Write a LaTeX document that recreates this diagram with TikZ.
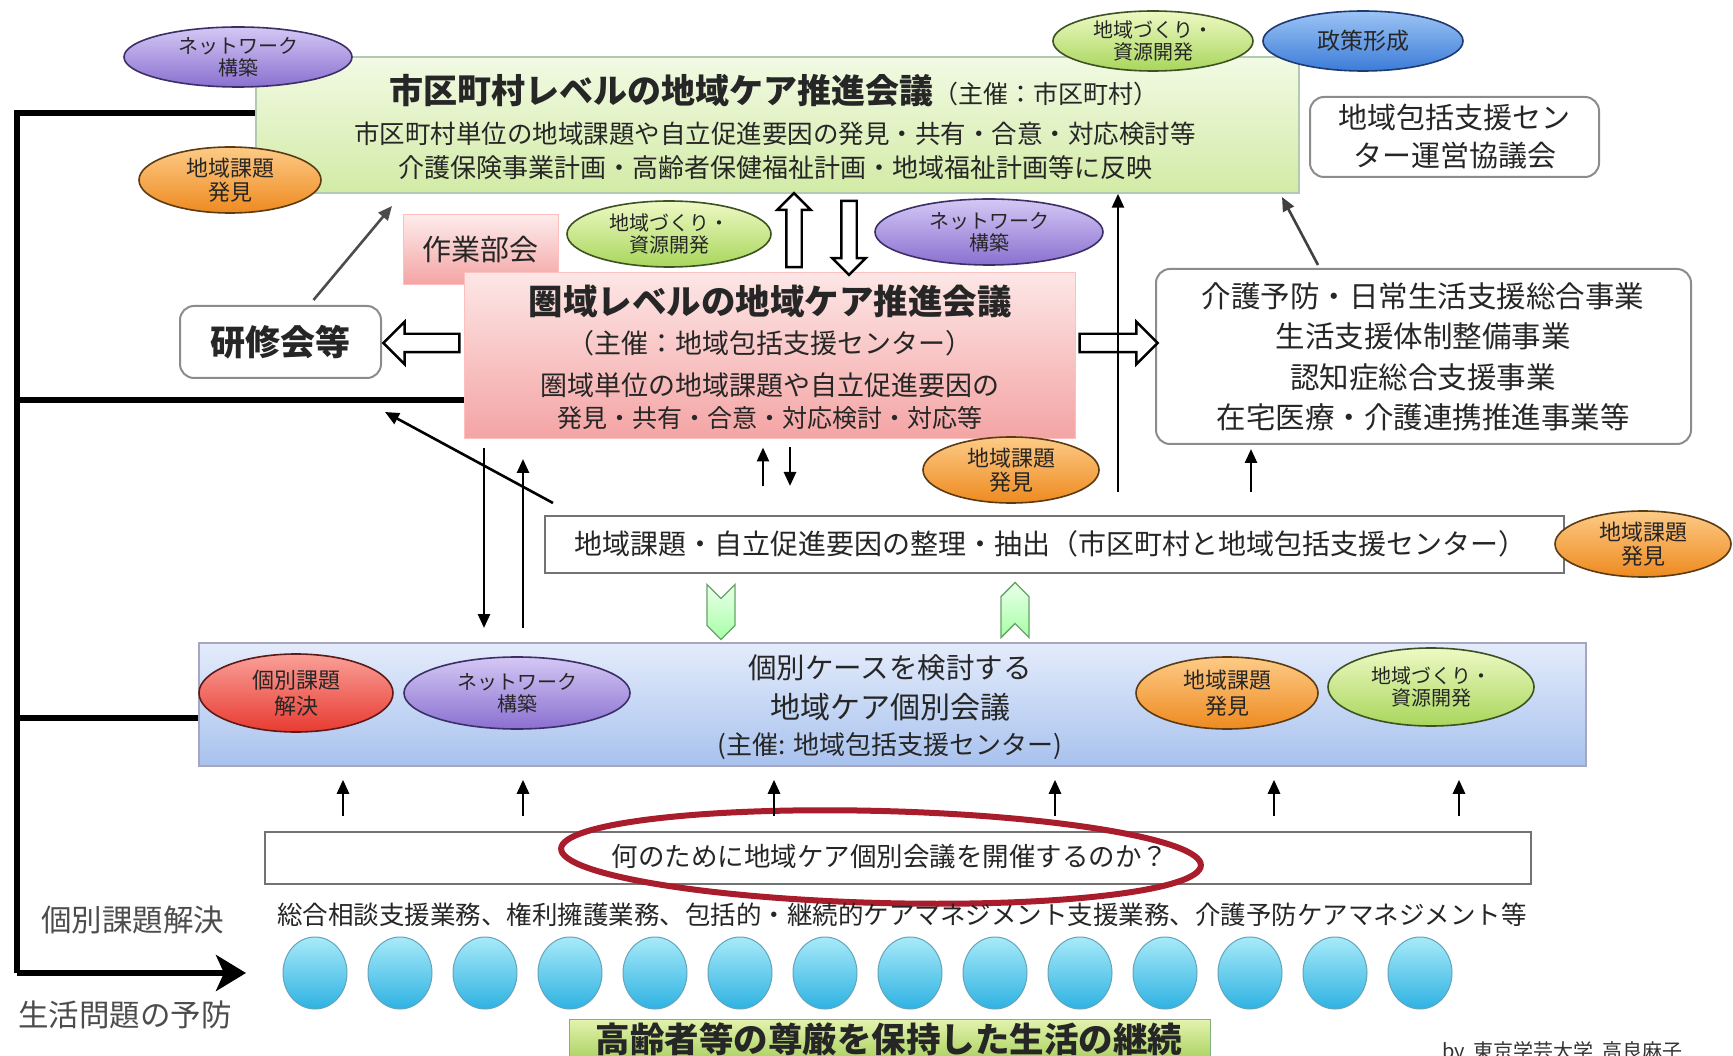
\documentclass[tikz,border=0pt]{standalone}
\usepackage{fontspec}
\setmainfont{Noto Sans CJK JP}
\usetikzlibrary{shapes.geometric,shapes.arrows,shapes.symbols,arrows.meta,shadows}
\newcommand\myfs[2]{\fontsize{#1}{#2}\selectfont}
\definecolor{txt}{HTML}{262626}
\definecolor{purT}{HTML}{D4C8F5}
\definecolor{purB}{HTML}{8A70D0}
\definecolor{purD}{HTML}{3C2F66}
\definecolor{oraT}{HTML}{FDCB86}
\definecolor{oraB}{HTML}{EE8A20}
\definecolor{oraD}{HTML}{5C3A12}
\definecolor{grnT}{HTML}{EEF9C4}
\definecolor{grnB}{HTML}{A8D65C}
\definecolor{grnD}{HTML}{3D5222}
\definecolor{bluT}{HTML}{9CC4F6}
\definecolor{bluB}{HTML}{3C7CD8}
\definecolor{bluD}{HTML}{1F3A72}
\definecolor{redT}{HTML}{F9A098}
\definecolor{redB}{HTML}{E83A30}
\definecolor{redD}{HTML}{5E1A18}
\definecolor{boxgT}{HTML}{F2FAE4}
\definecolor{boxgB}{HTML}{D2EBA6}
\definecolor{pinkT}{HTML}{FDE6E6}
\definecolor{pinkB}{HTML}{F4A4A4}
\definecolor{blbT}{HTML}{E4ECFB}
\definecolor{blbB}{HTML}{A8C2EE}
\definecolor{ballT}{HTML}{A8EAF9}
\definecolor{ballB}{HTML}{2EB2E2}
\definecolor{ringred}{HTML}{A81C2C}
\definecolor{botT}{HTML}{E4F3AE}
\definecolor{botB}{HTML}{98C648}
\tikzset{
  lbl/.style={ellipse, inner sep=0pt, align=center, text=black!85, line width=1.6pt, font=\myfs{20}{22}},
  pur/.style={lbl, top color=purT, bottom color=purB, draw=purD},
  ora/.style={lbl, top color=oraT, bottom color=oraB, draw=oraD},
  grn/.style={lbl, top color=grnT, bottom color=grnB, draw=grnD},
  blu/.style={lbl, top color=bluT, bottom color=bluB, draw=bluD},
  rd/.style={lbl, top color=redT, bottom color=redB, draw=redD},
  txtn/.style={inner sep=0pt, text=txt, align=center},
  rbox/.style={rounded corners=14pt, draw=black!45, fill=white, line width=2pt, inner sep=0pt},
  sbox/.style={draw=black!55, fill=white, line width=2.2pt, inner sep=0pt},
  arr/.style={-{Triangle[length=14pt,width=12pt]}, line width=2.6pt},
  thickln/.style={line width=6pt},
  hollow/.style={single arrow, draw=black, fill=white, line width=2.4pt, inner xsep=0pt, single arrow head indent=0pt, minimum width=1pt},
  chev/.style={signal, draw=green!40!black!60, top color=green!8, bottom color=green!35!white, line width=1.4pt, inner sep=0pt},
  ball/.style={ellipse, minimum width=64pt, minimum height=72pt, inner sep=0pt, top color=ballT, bottom color=ballB, draw=ballB!70!black!70, line width=1pt},
}
\begin{document}
\begin{tikzpicture}[x=1pt,y=-1pt]
\useasboundingbox (0,0) rectangle (1733,1056);
\fill[white] (0,0) rectangle (1733,1056);

% ---- boxes ----
\node[draw=green!30!black!30, line width=1.5pt, top color=boxgT, bottom color=boxgB, minimum width=1043pt, minimum height=136pt, inner sep=0pt] (topbox) at (777.5,125) {};
\node[txtn] (t1) at (774,91) {\myfs{34}{40}\bfseries 市区町村レベルの地域ケア推進会議\myfs{25}{30}\mdseries （主催：市区町村）};
\node[txtn] (t2) at (775,134) {\myfs{25.5}{30}市区町村単位の地域課題や自立促進要因の発見・共有・合意・対応検討等};
\node[txtn] (t3) at (775,168) {\myfs{26}{30}介護保険事業計画・高齢者保健福祉計画・地域福祉計画等に反映};

\node[rbox, minimum width=289pt, minimum height=80pt] (unei) at (1454.5,137) {};
\node[txtn, font=\myfs{29}{38}] (unei t) at (unei) {地域包括支援セン\\ター運営協議会};

\node[draw=red!25, line width=1pt, top color=pinkT!80, bottom color=pinkB, minimum width=155pt, minimum height=70pt, inner sep=0pt] (sagyo) at (480.5,250) {};
\node[txtn] (sagyo t) at (sagyo) {\myfs{29}{34}作業部会};

\node[draw=red!25, line width=1pt, top color=pinkT, bottom color=pinkB, minimum width=611pt, minimum height=166pt, inner sep=0pt] (pink) at (769.5,356) {};
\node[txtn] (p1) at (770,301) {\myfs{34.5}{40}\bfseries 圏域レベルの地域ケア推進会議};
\node[txtn] (p2) at (770,343) {\myfs{27}{32}（主催：地域包括支援センター）};
\node[txtn] (p3) at (770,385) {\myfs{27}{32}圏域単位の地域課題や自立促進要因の};
\node[txtn] (p4) at (770,418) {\myfs{25}{30}発見・共有・合意・対応検討・対応等};

\node[rbox, minimum width=201pt, minimum height=72pt] (kenshu) at (280.5,342) {};
\node[txtn] (kenshu t) at (kenshu) {\myfs{35}{40}\bfseries 研修会等};

\node[rbox, minimum width=535pt, minimum height=175pt] (jigyo) at (1423.5,356.5) {};
\node[txtn, font=\myfs{29.5}{40.5}] (jigyo t) at (1423,357) {介護予防・日常生活支援総合事業\\生活支援体制整備事業\\認知症総合支援事業\\在宅医療・介護連携推進事業等};

\node[sbox, minimum width=1019pt, minimum height=57pt] (seiri) at (1054.5,544.5) {};
\node[txtn] (seiri t) at (1050,544) {\myfs{28}{32}地域課題・自立促進要因の整理・抽出（市区町村と地域包括支援センター）};

\node[draw=blue!30!black!35, line width=1.5pt, top color=blbT, bottom color=blbB, minimum width=1387pt, minimum height=123pt, inner sep=0pt] (kobox) at (892.5,704.5) {};
\node[txtn] (k1) at (890,668) {\myfs{28.5}{32}個別ケースを検討する};
\node[txtn] (k2) at (890,707) {\myfs{30}{34}地域ケア個別会議};
\node[txtn] (k3) at (890,746) {\myfs{26}{30}(主催: 地域包括支援センター)};

\node[sbox, minimum width=1266pt, minimum height=52pt] (nanno) at (898,858) {};
\node[ellipse, draw=ringred, line width=6pt, minimum width=640pt, minimum height=92pt, inner sep=0pt, rotate=-1.5] (ring) at (881,857) {};
\node[txtn] (nanno t) at (890,857) {\myfs{26.5}{30}何のために地域ケア個別会議を開催するのか？};

\node[txtn] (sogo) at (902,915) {\myfs{25.5}{30}総合相談支援業務、権利擁護業務、包括的・継続的ケアマネジメント支援業務、介護予防ケアマネジメント等};

\node[txtn, text=black!70] (kobetsuL) at (133,920) {\myfs{30.5}{34}個別課題解決};
\node[txtn, text=black!70] (yobo) at (125,1015) {\myfs{30.5}{34}生活問題の予防};

\node[draw=green!40!black!50, line width=1pt, top color=botT, bottom color=botB, minimum width=641pt, minimum height=54pt, inner sep=0pt] (keizoku) at (889.5,1046) {};
\node[txtn] (keizoku t) at (889,1039) {\myfs{34.5}{40}\bfseries 高齢者等の尊厳を保持した生活の継続};

\node[txtn, anchor=north west, text=black!80] (by) at (1442,1041) {\myfs{20}{24}by\ \ 東京学芸大学\ \ 高良麻子};

% ---- balls ----
\foreach \i in {0,...,13} {
  \node[ball] (c\i) at ({315+85*\i},973) {};
}

% ---- thick bracket on the left ----
\coordinate (L1) at (17,113);
\coordinate (L2) at (17,400);
\coordinate (L3) at (17,718);
\coordinate (L4) at (17,973);
\coordinate (L4e) at (246,973);
\draw[thickln] (topbox.west |- L1) -- (L1) -- (L4);
\draw[thickln] (L2) -- (pink.west |- L2);
\draw[thickln] (L3) -- (kobox.west |- L3);
\draw[thickln, -{Stealth[length=30pt,width=36pt,inset=8pt]}] (L4) -- (L4e);

% ---- hollow block arrows ----
\node[hollow, inner ysep=6.5pt, single arrow head extend=9pt, minimum height=74pt, rotate=90] (hup) at (794,234) {};
\node[hollow, inner ysep=6.5pt, single arrow head extend=9pt, minimum height=74pt, rotate=-90] (hdn) at (849,234) {};
\node[hollow, inner ysep=8pt, single arrow head extend=12pt, minimum height=76pt, rotate=180] (hleft) at (426,343) {};
\node[hollow, inner ysep=8pt, single arrow head extend=12pt, minimum height=78pt] (hright) at (1114,343) {};

% ---- chevrons ----
\node[chev, signal to=south, signal from=north, minimum width=28pt, minimum height=27pt] (chd) at (721,612) {};
\node[chev, signal to=north, signal from=south, minimum width=28pt, minimum height=27pt] (chu) at (1015,610) {};

% ---- thin arrows ----
\coordinate (kt) at (392,206);
\draw[arr, draw=black!70] ([xshift=33pt]kenshu.north) ++(0,-5) coordinate (ks) -- (kt);
\coordinate (v1s) at (1118,492);
\draw[arr] (v1s) -- (topbox.south -| v1s);
\coordinate (s1) at (763,486);
\coordinate (s2) at (790,486);
\draw[arr] (s1) -- ([yshift=-8pt]pink.south -| s1);
\draw[arr] ([yshift=-8pt]pink.south -| s2) -- (s2);
\coordinate (s3) at (1251,492);
\draw[arr] (s3) -- ([yshift=-4pt]jigyo.south -| s3);
\coordinate (d1) at (484,448);
\coordinate (d1e) at (484,628);
\draw[arr] (d1) -- (d1e);
\coordinate (u1) at (523,628);
\coordinate (u1e) at (523,459);
\draw[arr] (u1) -- (u1e);
\coordinate (dg) at (553,503);
\coordinate (dge) at (385,412);
\draw[arr] (dg) -- (dge);
\coordinate (ju) at (1318,265);
\coordinate (jue) at (1282,197);
\draw[arr, draw=black!75] (ju) -- (jue);
\foreach \x [count=\n] in {343,523,774,1055,1274,1459} {
  \coordinate (ua\n) at (\x,816);
  \draw[arr] (ua\n) -- ([yshift=-13pt]kobox.south -| ua\n);
}

% ---- ellipse labels ----
\node[pur, minimum width=228pt, minimum height=60pt] (netTop) at (238,57) {ネットワーク\\構築};
\node[ora, minimum width=182pt, minimum height=66pt, font=\myfs{22}{24}] (kadaiTL) at (230,180) {地域課題\\発見};
\node[grn, minimum width=200pt, minimum height=60pt] (zukuriTop) at (1153,41) {地域づくり・\\資源開発};
\node[blu, minimum width=200pt, minimum height=60pt, font=\myfs{23}{26}] (seisaku) at (1363,41) {政策形成};
\node[grn, minimum width=204pt, minimum height=66pt] (zukuriMid) at (669,234) {地域づくり・\\資源開発};
\node[pur, minimum width=228pt, minimum height=66pt] (netMid) at (989,232) {ネットワーク\\構築};
\node[ora, minimum width=176pt, minimum height=66pt, font=\myfs{22}{24}] (kadaiMid) at (1011,470) {地域課題\\発見};
\node[ora, minimum width=176pt, minimum height=66pt, font=\myfs{22}{24}] (kadaiR) at (1643,544) {地域課題\\発見};
\node[rd, minimum width=194pt, minimum height=78pt, font=\myfs{22}{26}] (kobetsu) at (296,693) {個別課題\\解決};
\node[pur, minimum width=226pt, minimum height=72pt] (netLow) at (517,693) {ネットワーク\\構築};
\node[ora, minimum width=182pt, minimum height=72pt, font=\myfs{22}{26}] (kadaiLow) at (1227,693) {地域課題\\発見};
\node[grn, minimum width=206pt, minimum height=78pt] (zukuriLow) at (1431,687) {地域づくり・\\資源開発};
\end{tikzpicture}
\end{document}
